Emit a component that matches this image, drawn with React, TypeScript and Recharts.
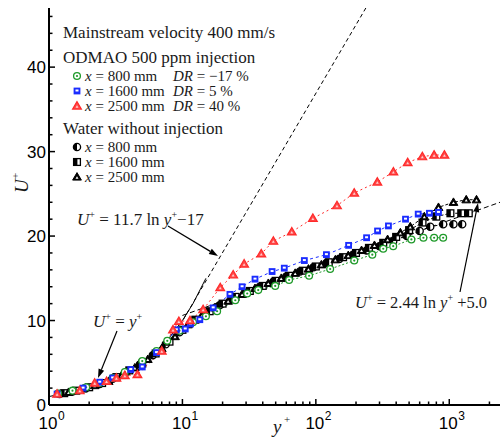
import { LineChart, Line, XAxis, YAxis } from "recharts";

// ODMAO 500 ppm injection (y+, U+)
const inj800Y = [1.17, 1.5, 1.9, 2.4, 3.0, 3.7, 5.0, 6.4, 7.7, 9.5, 12, 15, 18.2, 24.9, 30.6, 37, 49.6, 63, 89, 128, 194, 265, 320, 380, 520, 640, 770, 900];
const inj800U = [1.35, 1.7, 2.1, 2.6, 3.2, 3.9, 5.2, 6.4, 7.6, 8.8, 9.8, 10.5, 11.1, 12.4, 13.2, 13.6, 14.1, 14.8, 15.3, 16.1, 17.1, 17.8, 18.5, 18.8, 19.6, 19.8, 19.8, 19.8];

const inj1600Y = [1.15, 1.8, 2.4, 3.0, 4.1, 5.0, 6.4, 9.0, 10.5, 11.5, 13.5, 17, 22.7, 28, 35, 47, 58, 82, 120, 176, 240, 290, 350, 470, 585, 710, 830];
const inj1600U = [1.3, 2.0, 2.7, 3.2, 4.2, 4.5, 6.2, 8.9, 9.0, 9.6, 10.1, 11.5, 13.1, 14.0, 14.9, 15.8, 16.2, 17.1, 17.8, 18.9, 19.8, 20.6, 21.2, 22.0, 22.6, 22.7, 22.8];

const inj2500Y = [1.15, 1.7, 2.2, 2.7, 3.2, 3.7, 4.6, 7.0, 8.5, 9.4, 11.4, 14.3, 19.2, 24, 29, 39, 48, 66, 95, 144, 194, 289, 381, 488, 628, 770, 920];
const inj2500U = [1.3, 1.7, 2.6, 2.8, 3.2, 3.5, 3.6, 6.4, 8.9, 9.9, 10.0, 11.3, 13.9, 15.4, 16.7, 17.9, 19.4, 20.5, 22.1, 23.6, 25.1, 26.4, 27.6, 28.7, 29.4, 29.6, 29.6];

// water without injection
const wat800Y = [1.2, 1.5, 1.9, 2.4, 3.0, 3.8, 4.8, 6.0, 7.5, 9.5, 12, 15, 19, 24, 30, 38, 48, 60, 76, 96, 120, 150, 190, 240, 300, 380, 480, 600, 720, 900, 1075, 1250];
const wat800U = [1.3, 1.6, 2.0, 2.5, 3.1, 3.9, 4.8, 5.9, 7.2, 8.6, 9.9, 10.9, 11.8, 12.6, 13.3, 14.0, 14.6, 15.2, 15.8, 16.3, 16.8, 17.3, 17.8, 18.3, 18.8, 19.4, 20.0, 20.6, 21.1, 21.4, 21.4, 21.4];

const wat1600Y = [1.3, 1.6, 2.0, 2.5, 3.2, 4.0, 5.0, 6.3, 8, 10, 12.5, 16, 20, 25, 32, 40, 50, 63, 80, 100, 125, 160, 200, 250, 320, 400, 500, 630, 800, 1020, 1230, 1400];
const wat1600U = [1.4, 1.7, 2.1, 2.6, 3.3, 4.1, 4.9, 6.1, 7.5, 8.9, 10.1, 11.1, 12.0, 12.8, 13.5, 14.1, 14.7, 15.3, 15.9, 16.4, 16.9, 17.5, 18.0, 18.6, 19.2, 19.9, 20.7, 21.6, 22.3, 22.7, 22.7, 22.7];

const wat2500Y = [1.4, 1.8, 2.2, 2.8, 3.5, 4.4, 5.5, 7, 8.8, 11, 14, 17.5, 22, 28, 35, 44, 55, 70, 88, 110, 140, 175, 220, 275, 345, 430, 510, 650, 830, 1075, 1340, 1600];
const wat2500U = [1.5, 1.9, 2.3, 2.8, 3.5, 4.4, 5.4, 6.7, 8.1, 9.5, 10.6, 11.5, 12.3, 13.1, 13.8, 14.4, 15.0, 15.6, 16.1, 16.6, 17.2, 17.7, 18.3, 18.9, 19.6, 20.4, 21.1, 22.3, 23.4, 24.0, 24.3, 24.3];

// reference laws
const viscY = [1, 2, 3, 4, 6, 8, 10, 12, 15];
const viscU = [1, 2, 3, 4, 6, 8, 10, 12, 15];
const steepY = [9, 237];
const steepU = [8.7, 47];
const logLawY = [10, 2400];
const logLawU = [10.6, 24.0];

const xMajor = [1, 10, 100, 1000];
const xTicks = [1, 2, 3, 4, 5, 6, 7, 8, 9, 10, 20, 30, 40, 50, 60, 70, 80, 90, 100, 200, 300, 400, 500, 600, 700, 800, 900, 1000, 2000];
const yTicks = [0, 2, 4, 6, 8, 10, 12, 14, 16, 18, 20, 22, 24, 26, 28, 30, 32, 34, 36, 38, 40, 42, 44, 46];

const zip = (ys: number[], us: number[]) => ys.map((y, i) => ({ y, u: us[i] }));

const SERIF = "Liberation Serif, Times New Roman, serif";
const SANS = "Liberation Sans, Arial, sans-serif";
const GREEN = "#1f9a2a";
const BLUE = "#1a2cff";
const RED = "#ff2a2a";

function GreenDot({ cx, cy }: any) {
  return (
    <g>
      <circle cx={cx} cy={cy} r={3.4} fill="#fff" stroke={GREEN} strokeWidth={1.3} />
      <circle cx={cx} cy={cy} r={1.1} fill={GREEN} />
    </g>
  );
}
function BlueDot({ cx, cy }: any) {
  return (
    <g>
      <rect x={cx - 3.4} y={cy - 3.4} width={6.8} height={6.8} fill={BLUE} />
      <rect x={cx - 1.5} y={cy - 1.5} width={3} height={2} fill="#fff" />
    </g>
  );
}
function RedDot({ cx, cy }: any) {
  return (
    <g>
      <polygon points={`${cx},${cy - 4.4} ${cx - 4.4},${cy + 3.1} ${cx + 4.4},${cy + 3.1}`} fill="#ff4a4a" stroke={RED} strokeWidth={1.2} />
      <polygon points={`${cx},${cy - 0.8} ${cx - 1.4},${cy + 1.7} ${cx + 1.4},${cy + 1.7}`} fill="#ffd0d0" />
    </g>
  );
}
function HalfCircle({ cx, cy }: any) {
  return (
    <g>
      <circle cx={cx} cy={cy} r={3.6} fill="#fff" stroke="#000" strokeWidth={1.3} />
      <path d={`M${cx},${cy - 3.6} A3.6,3.6 0 0 0 ${cx},${cy + 3.6} Z`} fill="#000" />
    </g>
  );
}
function HalfSquare({ cx, cy }: any) {
  return (
    <g>
      <rect x={cx - 3.4} y={cy - 3.4} width={6.8} height={6.8} fill="#fff" stroke="#000" strokeWidth={1.3} />
      <rect x={cx - 3.4} y={cy - 3.4} width={3.8} height={6.8} fill="#000" />
    </g>
  );
}
function BlackTri({ cx, cy }: any) {
  return (
    <g>
      <polygon points={`${cx},${cy - 4.4} ${cx - 4.4},${cy + 3.1} ${cx + 4.4},${cy + 3.1}`} fill="#000" stroke="#000" strokeWidth={1} />
      <polygon points={`${cx},${cy - 0.8} ${cx - 1.5},${cy + 1.7} ${cx + 1.5},${cy + 1.7}`} fill="#fff" />
    </g>
  );
}

const dotOf = (Comp: any) => (p: any) => <Comp key={p.index} cx={p.cx} cy={p.cy} />;

function BottomTick({ x, y, payload }: any) {
  const major = xMajor.includes(payload.value);
  const exp = Math.round(Math.log10(payload.value));
  return (
    <g>
      <line x1={x} x2={x} y1={y} y2={y - (major ? 6 : 3.5)} stroke="#000" strokeWidth={1.5} />
      {major && (
        <g fontFamily={SANS} fill="#000">
          <text x={x - 1} y={y + 24} fontSize={17} textAnchor="middle">10</text>
          <text x={x + 9} y={y + 15} fontSize={12}>{exp}</text>
        </g>
      )}
    </g>
  );
}
function TopTick({ x, y, payload }: any) {
  const major = xMajor.includes(payload.value);
  return <line x1={x} x2={x} y1={y} y2={y + (major ? 6 : 3.5)} stroke="#000" strokeWidth={1.5} />;
}
function LeftTick({ x, y, payload }: any) {
  const major = payload.value % 10 === 0;
  return (
    <g>
      <line x1={x} x2={x + (major ? 6 : 3.5)} y1={y} y2={y} stroke="#000" strokeWidth={1.5} />
      {major && (
        <text x={x - 3} y={y + 6} fontSize={17} fontFamily={SANS} textAnchor="end" fill="#000">
          {payload.value}
        </text>
      )}
    </g>
  );
}
function RightTick({ x, y, payload }: any) {
  const major = payload.value % 10 === 0;
  return <line x1={x} x2={x - (major ? 6 : 3.5)} y1={y} y2={y} stroke="#000" strokeWidth={1.5} />;
}

function Arrow({ x1, y1, x2, y2 }: { x1: number; y1: number; x2: number; y2: number }) {
  const a = Math.atan2(y2 - y1, x2 - x1);
  const L = 9;
  const W = 3;
  const bx = x2 - L * Math.cos(a);
  const by = y2 - L * Math.sin(a);
  const px = -Math.sin(a) * W;
  const py = Math.cos(a) * W;
  return (
    <g>
      <line x1={x1} y1={y1} x2={bx} y2={by} stroke="#000" strokeWidth={1.2} />
      <polygon points={`${x2},${y2} ${bx + px},${by + py} ${bx - px},${by - py}`} fill="#000" />
    </g>
  );
}

function Overlay() {
  const rows1 = [
    { dot: GreenDot, x: "800", dr: "−17 %", y: 81 },
    { dot: BlueDot, x: "1600", dr: "5 %", y: 96 },
    { dot: RedDot, x: "2500", dr: "40 %", y: 111 },
  ];
  const rows2 = [
    { dot: HalfCircle, x: "800", y: 152 },
    { dot: HalfSquare, x: "1600", y: 167 },
    { dot: BlackTri, x: "2500", y: 182 },
  ];
  return (
    <svg width={501} height={438} style={{ position: "absolute", left: 0, top: 0, pointerEvents: "none" }}>
      <g fontFamily={SERIF} fill="#1a1a1a">
        <text x={63} y={38} fontSize={17}>Mainstream velocity 400 mm/s</text>
        <text x={63} y={63} fontSize={17}>ODMAO 500 ppm injection</text>
        {rows1.map((r) => (
          <g key={r.x}>
            <r.dot cx={77} cy={r.y - 5} />
            <text x={85} y={r.y} fontSize={15}>
              <tspan fontStyle="italic">x</tspan> = {r.x} mm
            </text>
            <text x={173} y={r.y} fontSize={15}>
              <tspan fontStyle="italic">DR</tspan> = {r.dr}
            </text>
          </g>
        ))}
        <text x={63} y={134} fontSize={17}>Water without injection</text>
        {rows2.map((r) => (
          <g key={r.x}>
            <r.dot cx={77} cy={r.y - 5} />
            <text x={85} y={r.y} fontSize={15}>
              <tspan fontStyle="italic">x</tspan> = {r.x} mm
            </text>
          </g>
        ))}
        <text x={77} y={225} fontSize={17}>
          <tspan fontStyle="italic">U</tspan>
          <tspan dy={-7} fontSize={10}>+</tspan>
          <tspan dy={7}> = 11.7 ln </tspan>
          <tspan fontStyle="italic">y</tspan>
          <tspan dy={-7} fontSize={10}>+</tspan>
          <tspan dy={7}>−17</tspan>
        </text>
        <text x={93} y={327} fontSize={17}>
          <tspan fontStyle="italic">U</tspan>
          <tspan dy={-7} fontSize={10}>+</tspan>
          <tspan dy={7}> = </tspan>
          <tspan fontStyle="italic">y</tspan>
          <tspan dy={-7} fontSize={10}>+</tspan>
        </text>
        <text x={355} y={308} fontSize={16.5}>
          <tspan fontStyle="italic">U</tspan>
          <tspan dy={-7} fontSize={10}>+</tspan>
          <tspan dy={7}> = 2.44 ln </tspan>
          <tspan fontStyle="italic">y</tspan>
          <tspan dy={-7} fontSize={10}>+</tspan>
          <tspan dy={7}> +5.0</tspan>
        </text>
        <text x={273} y={433} fontSize={19} fontStyle="italic">y</text>
        <text x={284} y={423} fontSize={11}>+</text>
        <g transform="translate(28,193) rotate(-90)">
          <text x={0} y={0} fontSize={19} fontStyle="italic">U</text>
          <text x={14} y={-9} fontSize={11}>+</text>
        </g>
      </g>
      <Arrow x1={168} y1={226} x2={218} y2={256} />
      <Arrow x1={117} y1={331} x2={98} y2={378} />
      <Arrow x1={460} y1={292} x2={478} y2={203} />
    </svg>
  );
}

export default function App() {
  return (
    <div style={{ position: "absolute", left: 0, top: 0, width: 501, height: 438, background: "#fff" }}>
      <LineChart width={501} height={438} margin={{ top: 8, right: 1, bottom: 0, left: 0 }}>
        <XAxis
          dataKey="y"
          type="number"
          scale="log"
          domain={[1, 2400]}
          allowDataOverflow
          ticks={xTicks}
          interval={0}
          height={33}
          tickSize={0}
          tickMargin={0}
          tickLine={false}
          axisLine={{ stroke: "#000", strokeWidth: 2 }}
          tick={<BottomTick />}
        />
        <XAxis
          xAxisId="top"
          orientation="top"
          dataKey="y"
          type="number"
          scale="log"
          domain={[1, 2400]}
          allowDataOverflow
          ticks={xTicks}
          interval={0}
          height={0}
          tickSize={0}
          tickMargin={0}
          tickLine={false}
          axisLine={{ stroke: "#000", strokeWidth: 2 }}
          tick={<TopTick />}
        />
        <YAxis
          type="number"
          domain={[0, 47]}
          allowDataOverflow
          ticks={yTicks}
          interval={0}
          width={49}
          tickSize={0}
          tickMargin={0}
          tickLine={false}
          axisLine={{ stroke: "#000", strokeWidth: 2 }}
          tick={<LeftTick />}
        />
        <YAxis
          yAxisId="right"
          orientation="right"
          type="number"
          domain={[0, 47]}
          allowDataOverflow
          ticks={yTicks}
          interval={0}
          width={0}
          tickSize={0}
          tickMargin={0}
          tickLine={false}
          axisLine={{ stroke: "#000", strokeWidth: 2 }}
          tick={<RightTick />}
        />
        <Line data={zip(viscY, viscU)} dataKey="u" type="linear" stroke="#000" strokeWidth={1} dot={false} isAnimationActive={false} />
        <Line data={zip(steepY, steepU)} dataKey="u" type="linear" stroke="#000" strokeWidth={1} strokeDasharray="4 3" dot={false} isAnimationActive={false} />
        <Line data={zip(logLawY, logLawU)} dataKey="u" type="linear" stroke="#000" strokeWidth={1} strokeDasharray="5 3" dot={false} isAnimationActive={false} />
        <Line data={zip(wat800Y, wat800U)} dataKey="u" type="linear" stroke="#000" strokeWidth={1} strokeDasharray="3 2" dot={dotOf(HalfCircle)} isAnimationActive={false} />
        <Line data={zip(wat1600Y, wat1600U)} dataKey="u" type="linear" stroke="#000" strokeWidth={1} strokeDasharray="3 2" dot={dotOf(HalfSquare)} isAnimationActive={false} />
        <Line data={zip(wat2500Y, wat2500U)} dataKey="u" type="linear" stroke="#000" strokeWidth={1} strokeDasharray="3 2" dot={dotOf(BlackTri)} isAnimationActive={false} />
        <Line data={zip(inj800Y, inj800U)} dataKey="u" type="linear" stroke={GREEN} strokeWidth={1} strokeDasharray="2 2" dot={dotOf(GreenDot)} isAnimationActive={false} />
        <Line data={zip(inj1600Y, inj1600U)} dataKey="u" type="linear" stroke={BLUE} strokeWidth={1} strokeDasharray="3 3" dot={dotOf(BlueDot)} isAnimationActive={false} />
        <Line data={zip(inj2500Y, inj2500U)} dataKey="u" type="linear" stroke={RED} strokeWidth={1} strokeDasharray="2 3" dot={dotOf(RedDot)} isAnimationActive={false} />
      </LineChart>
      <Overlay />
    </div>
  );
}
